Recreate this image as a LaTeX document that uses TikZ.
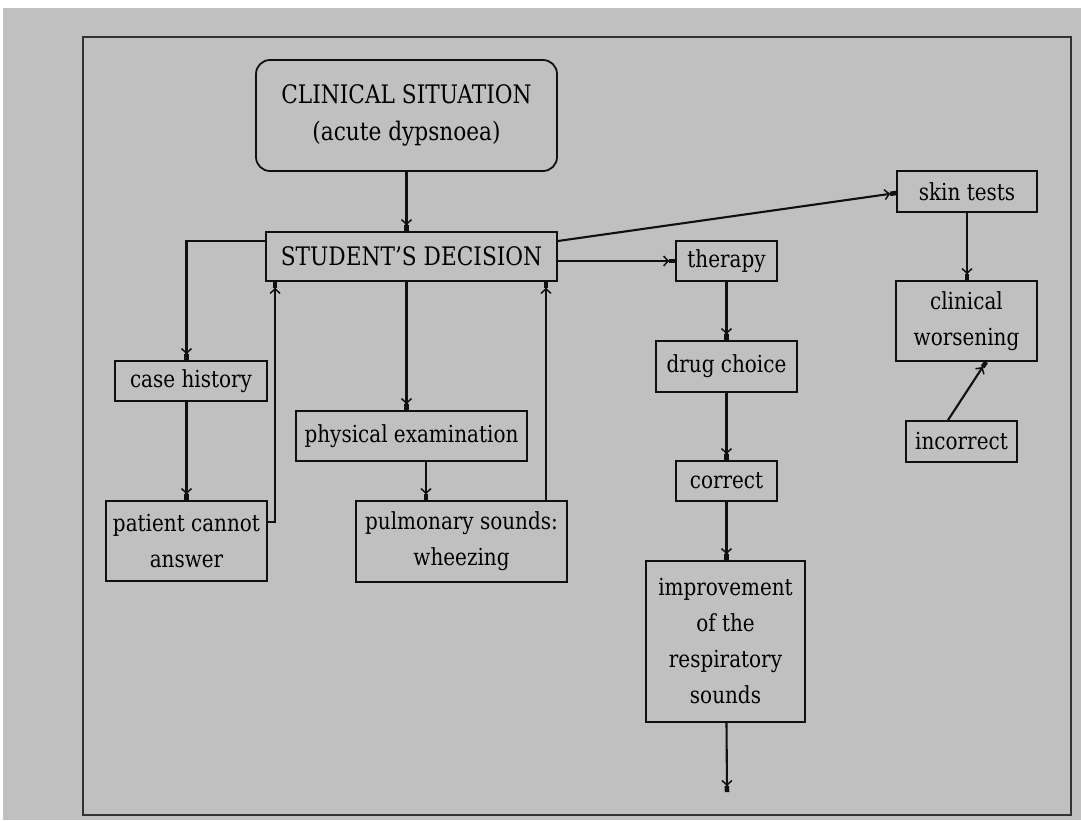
\documentclass[tikz,border=0pt]{standalone}
\usepackage{fontspec}
\setmainfont[FakeStretch=0.85]{DejaVu Serif}
\usetikzlibrary{arrows.meta,calc}

\definecolor{panel}{HTML}{C0C0C0}
\definecolor{ink}{HTML}{101010}

\tikzset{
  box/.style={draw=ink, line width=1.8pt, inner sep=0pt, align=center,
              font=\fontsize{23.5}{36}\selectfont},
  bigbox/.style={box, font=\fontsize{25.5}{37}\selectfont},
  arr/.style={draw=ink, line width=2.1pt,
              -{Straight Barb[length=4.5pt,width=10pt,line width=1.5pt]Square[length=6pt,width=4.5pt]}},
}

\begin{document}
\begin{tikzpicture}[x=1pt,y=-1pt]
\useasboundingbox (0,0) rectangle (1081,820);
% page and grey panel
\fill[white] (0,0) rectangle (1081,820);
\fill[panel] (3,8) rectangle (1081,820);
\draw[line width=2.5pt, draw=black!80] (83,37) rectangle (1071,815);

% nodes
\node[bigbox, rounded corners=14pt, minimum width=301pt, minimum height=111pt] (cs) at (406.5,115.5)
  {CLINICAL SITUATION\\(acute dypsnoea)};
\node[bigbox, minimum width=291pt, minimum height=49pt] (sd) at (411.5,256.5) {STUDENT'S DECISION};

\node[box, minimum width=152pt, minimum height=40pt] (ch) at (191,381) {case history};
\node[box, minimum width=161pt, minimum height=80pt] (pat) at (186.5,541) {patient cannot\\answer};

\node[box, minimum width=231pt, minimum height=50pt] (phys) at (411.5,436) {physical examination};
\node[box, minimum width=211pt, minimum height=81pt] (pulm) at (461.5,541.5) {pulmonary sounds:\\wheezing};

\node[box, minimum width=101pt, minimum height=40pt] (ther) at (726.5,261) {therapy};
\node[box, minimum width=141pt, minimum height=51pt] (drug) at (726.5,366.5) {drug choice};
\node[box, minimum width=101pt, minimum height=40pt] (corr) at (726.5,481) {correct};
\node[box, minimum width=159pt, minimum height=161pt] (imp) at (725.5,641.5)
  {improvement\\of the\\respiratory\\sounds};
\coordinate (out) at (727,792);

\node[box, minimum width=140pt, minimum height=41pt] (skin) at (967,191.5) {skin tests};
\node[box, minimum width=141pt, minimum height=80pt] (cw) at (966.5,321) {clinical\\worsening};
\node[box, minimum width=111pt, minimum height=41pt] (inc) at (961.5,441.5) {incorrect};

% connectors
\draw[arr] (cs.south) -- (cs.south |- sd.north);
\draw[arr] ($(sd.east)+(0,-15.5)$) -- ($(skin.west)+(0,1.5)$);
\draw[arr] (sd.east |- ther.west) -- (ther.west);
\draw[arr] (ther.south) -- (drug.north);
\draw[arr] (drug.south) -- (corr.north);
\draw[arr] (corr.south) -- (corr.south |- imp.north);
\draw[arr] (imp.south -| corr.south) -- (out);
\draw[arr] (skin.south) -- (skin.south |- cw.north);
\draw[arr] ($(inc.north)+(-13.5,0)$) -- ($(cw.south)+(19.5,0)$);

\draw[arr] ($(sd.west)+(0,-15.5)$) -| (ch.north -| pat.north);
\draw[arr] (ch.south -| pat.north) -- (pat.north);
\draw[arr] ($(pat.east)+(0,-19)$) -| ($(sd.south west)+(10,0)$);
\draw[arr] ($(sd.south)+(-5,0)$) -- ($(phys.north)+(-5,0)$);
\draw[arr] ($(phys.south)+(14.5,0)$) -- ($(pulm.north)+(-35.5,0)$);
\draw[arr] ($(pulm.north)+(84.5,0)$) -- ($(sd.south)+(134.5,0)$);
\end{tikzpicture}
\end{document}
